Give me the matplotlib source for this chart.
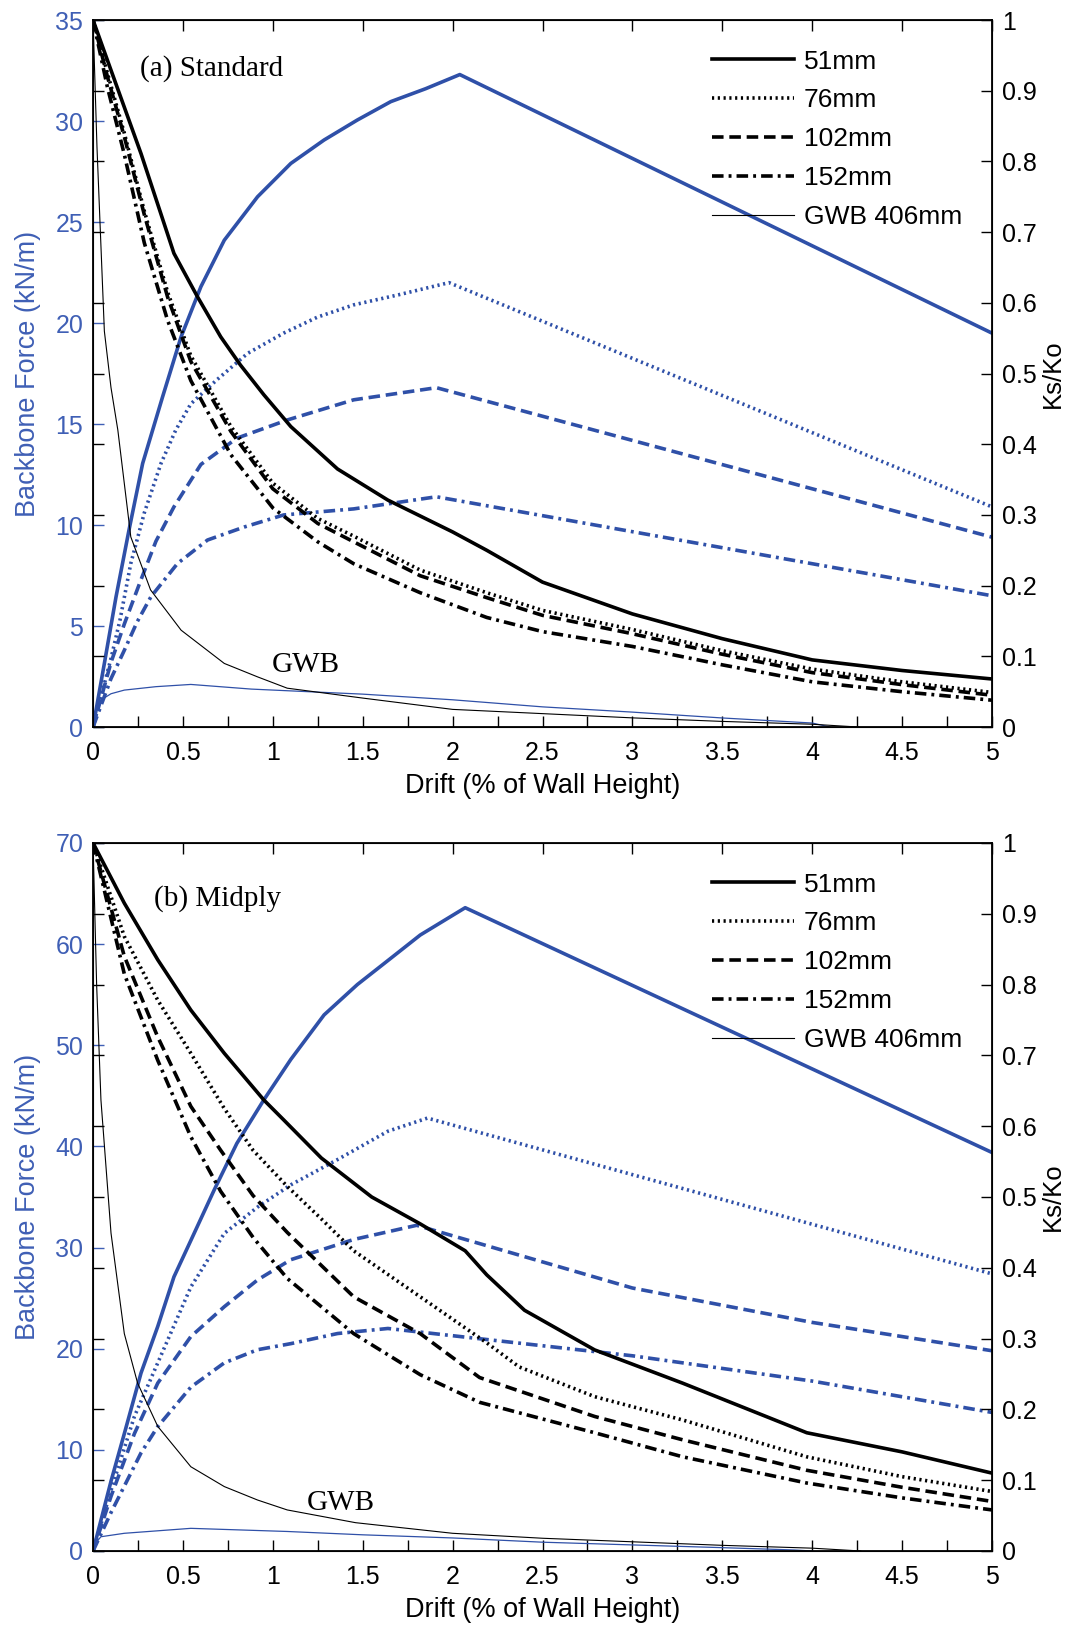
import matplotlib
matplotlib.use("Agg")
import matplotlib.pyplot as plt
from matplotlib.lines import Line2D
from matplotlib.ticker import MultipleLocator, FuncFormatter

plt.rcParams['font.family'] = ['Liberation Sans', 'DejaVu Sans']

BLUE = '#2F50A8'
BLUE_TXT = '#3F5FB5'

# ---------------- (a) Standard ----------------
a_f51_d = [0, 0.063, 0.128, 0.2, 0.276, 0.387, 0.489, 0.6, 0.73, 0.915, 1.1, 1.285, 1.47, 1.656, 1.85, 2.04, 5]
a_f51 = [0, 3.15, 6.45, 9.75, 13.05, 16.35, 19.3, 21.8, 24.1, 26.25, 27.9, 29.06, 30.05, 30.96, 31.6, 32.3, 19.5]
a_f76_d = [0, 0.1, 0.15, 0.21, 0.285, 0.378, 0.46, 0.544, 0.69, 0.86, 1.06, 1.25, 1.45, 1.7, 1.98, 5]
a_f76 = [0, 3.4, 5.3, 8.1, 10.6, 13.05, 14.7, 16.0, 17.2, 18.5, 19.5, 20.3, 20.9, 21.4, 22.0, 10.9]
a_f102_d = [0, 0.1, 0.174, 0.267, 0.35, 0.45, 0.6, 0.8, 1.08, 1.45, 1.91, 5]
a_f102 = [0, 3.2, 5.1, 7.3, 9.2, 10.9, 13.0, 14.3, 15.2, 16.2, 16.8, 9.4]
a_f152_d = [0, 0.1, 0.174, 0.245, 0.322, 0.47, 0.637, 0.84, 1.06, 1.45, 1.91, 5]
a_f152 = [0, 2.4, 3.8, 5.2, 6.45, 8.1, 9.26, 9.9, 10.5, 10.8, 11.4, 6.5]
a_fgwb_d = [0, 0.02, 0.044, 0.1, 0.174, 0.35, 0.544, 0.88, 1.2, 1.5, 2.0, 2.5, 3.0, 3.5, 4.0, 4.1]
a_fgwb = [0, 0.9, 1.34, 1.65, 1.83, 2.0, 2.11, 1.88, 1.75, 1.63, 1.35, 1.0, 0.74, 0.45, 0.2, 0]

a_k51_d = [0, 0.1, 0.267, 0.45, 0.58, 0.71, 0.82, 0.95, 1.1, 1.36, 1.64, 2.0, 2.19, 2.5, 3, 3.5, 4, 4.5, 5]
a_k51 = [1, 0.929, 0.811, 0.67, 0.609, 0.552, 0.512, 0.47, 0.425, 0.365, 0.321, 0.276, 0.25, 0.205, 0.16, 0.125, 0.095, 0.08, 0.068]
a_k_d = [0, 0.08, 0.174, 0.285, 0.415, 0.544, 0.767, 1.0, 1.25, 1.45, 1.82, 2.19, 2.5, 3, 3.5, 4, 4.5, 5]
a_k76 = [1, 0.925, 0.84, 0.73, 0.615, 0.525, 0.425, 0.345, 0.295, 0.27, 0.222, 0.19, 0.165, 0.138, 0.108, 0.082, 0.064, 0.049]
a_k102 = [1, 0.92, 0.835, 0.725, 0.608, 0.517, 0.418, 0.337, 0.288, 0.262, 0.214, 0.183, 0.158, 0.132, 0.103, 0.077, 0.06, 0.045]
a_k152 = [1, 0.905, 0.81, 0.685, 0.575, 0.49, 0.385, 0.31, 0.262, 0.231, 0.19, 0.155, 0.135, 0.114, 0.088, 0.064, 0.05, 0.038]
a_kgwb_d = [0, 0.022, 0.063, 0.1, 0.138, 0.21, 0.32, 0.49, 0.73, 0.915, 1.08, 1.5, 2.0, 2.5, 3.0, 3.5, 4.0, 4.26]
a_kgwb = [1, 0.82, 0.56, 0.48, 0.42, 0.269, 0.194, 0.137, 0.09, 0.071, 0.055, 0.041, 0.025, 0.019, 0.013, 0.008, 0.004, 0]

# ---------------- (b) Midply ----------------
b_f51_d = [0, 0.1, 0.174, 0.267, 0.36, 0.45, 0.544, 0.674, 0.8, 0.95, 1.1, 1.285, 1.47, 1.656, 1.82, 2.07, 5]
b_f51 = [0, 6.9, 11.6, 17.6, 22.2, 27.1, 30.7, 35.7, 40.3, 44.6, 48.6, 53.0, 56.0, 58.6, 60.9, 63.6, 39.4]
b_f76_d = [0, 0.1, 0.23, 0.36, 0.544, 0.73, 0.915, 1.1, 1.36, 1.64, 1.86, 5]
b_f76 = [0, 6.0, 13.3, 18.6, 26.1, 31.4, 34.0, 36.2, 38.7, 41.5, 42.8, 27.4]
b_f102_d = [0, 0.1, 0.23, 0.36, 0.544, 0.73, 0.915, 1.1, 1.45, 1.8, 3, 4, 5]
b_f102 = [0, 5.4, 11.6, 16.6, 21.2, 24.15, 26.8, 28.8, 30.8, 32.2, 26.0, 22.6, 19.8]
b_f152_d = [0, 0.1, 0.267, 0.36, 0.544, 0.73, 0.915, 1.1, 1.36, 1.64, 3, 4, 5]
b_f152 = [0, 3.8, 9.7, 12.3, 16.2, 18.6, 19.9, 20.5, 21.5, 22.0, 19.3, 16.8, 13.7]
b_fgwb_d = [0, 0.02, 0.044, 0.174, 0.544, 1.08, 1.5, 2.0, 2.5, 3.0, 3.5, 3.9, 4.0]
b_fgwb = [0, 0.9, 1.41, 1.75, 2.24, 1.93, 1.6, 1.29, 0.87, 0.6, 0.33, 0.1, 0]

b_k51_d = [0, 0.174, 0.36, 0.544, 0.73, 0.95, 1.06, 1.27, 1.55, 1.82, 2.07, 2.19, 2.4, 2.79, 3.28, 3.97, 4.5, 5]
b_k51 = [1, 0.915, 0.835, 0.764, 0.703, 0.637, 0.609, 0.555, 0.5, 0.462, 0.424, 0.39, 0.34, 0.284, 0.237, 0.167, 0.14, 0.11]
b_k76_d = [0, 0.174, 0.36, 0.544, 0.73, 0.89, 1.08, 1.27, 1.45, 1.82, 2.19, 2.37, 2.79, 3.28, 3.97, 4.5, 5]
b_k76 = [1, 0.868, 0.778, 0.703, 0.625, 0.566, 0.515, 0.469, 0.424, 0.359, 0.294, 0.26, 0.218, 0.185, 0.133, 0.105, 0.084]
b_k_d = [0, 0.174, 0.36, 0.544, 0.71, 0.89, 1.08, 1.45, 1.82, 2.15, 2.79, 3.28, 3.97, 4.5, 5]
b_k102 = [1, 0.84, 0.726, 0.628, 0.566, 0.502, 0.45, 0.359, 0.307, 0.245, 0.19, 0.157, 0.114, 0.09, 0.07]
b_k152 = [1, 0.815, 0.693, 0.585, 0.508, 0.443, 0.385, 0.307, 0.249, 0.21, 0.167, 0.133, 0.096, 0.075, 0.058]
b_kgwb_d = [0, 0.02, 0.044, 0.1, 0.174, 0.248, 0.36, 0.544, 0.73, 0.915, 1.08, 1.46, 2.0, 2.5, 3.0, 3.5, 4.0, 4.27]
b_kgwb = [1, 0.8, 0.637, 0.449, 0.307, 0.237, 0.176, 0.119, 0.091, 0.072, 0.058, 0.04, 0.025, 0.018, 0.013, 0.008, 0.004, 0]

legend_labels = ['51mm', '76mm', '102mm', '152mm', 'GWB 406mm']

DOT = (0, (0.6, 1.0))
DASH = (0, (3.2, 1.6))
DASHDOT = (0, (3.2, 1.4, 0.8, 1.4))
STYLES = ['-', DOT, DASH, DASHDOT]
LW = 2.6
TICK_FS = 18
LABEL_FS = 19.5


def fmt(v, _):
    s = f"{v:.1f}"
    return s[:-2] if s.endswith('.0') else s


def panel(rect, fmax, title, title_xy, gwb_xy, force, ks):
    ax = fig.add_axes(rect)
    for (d, f), ls in zip(force[:4], STYLES):
        ax.plot(d, f, color=BLUE, lw=LW, linestyle=ls, solid_joinstyle='round')
    ax.plot(force[4][0], force[4][1], color=BLUE, lw=0.9)
    ax.set_xlim(0, 5)
    ax.set_ylim(0, fmax)
    ax.xaxis.set_major_locator(MultipleLocator(0.5))
    ax.xaxis.set_minor_locator(MultipleLocator(0.25))
    ax.xaxis.set_major_formatter(FuncFormatter(fmt))
    ax.yaxis.set_major_locator(MultipleLocator(fmax / 7))
    ax.tick_params(axis='x', which='major', direction='in', length=8, width=1,
                   top=True, labelsize=TICK_FS, pad=10, colors='black')
    ax.tick_params(axis='x', which='minor', direction='in', length=8, width=1,
                   top=False)
    ax.tick_params(axis='y', direction='in', length=8, width=1, colors=BLUE_TXT,
                   labelsize=TICK_FS, pad=7)
    ax.set_ylabel('Backbone Force (kN/m)', color=BLUE_TXT, fontsize=LABEL_FS, labelpad=10)
    ax.set_xlabel('Drift (% of Wall Height)', fontsize=LABEL_FS, labelpad=6)
    for s in ax.spines.values():
        s.set_linewidth(1.3)

    ax2 = ax.twinx()
    for (d, k), ls in zip(ks[:4], STYLES):
        ax2.plot(d, k, color='black', lw=LW, linestyle=ls, solid_joinstyle='round')
    ax2.plot(ks[4][0], ks[4][1], color='black', lw=0.8)
    ax2.set_ylim(0, 1)
    ax2.yaxis.set_major_locator(MultipleLocator(0.1))
    ax2.yaxis.set_major_formatter(FuncFormatter(fmt))
    ax2.tick_params(axis='y', direction='in', length=8, width=1, left=True,
                    right=True, labelsize=TICK_FS, pad=7)
    ax2.set_ylabel('Ks/Ko', fontsize=18.5, labelpad=3)

    ax2.text(title_xy[0], title_xy[1], title, transform=ax2.transAxes,
             family='Liberation Serif', fontsize=21, va='center', ha='left')
    ax.text(gwb_xy[0], gwb_xy[1], 'GWB', family='Liberation Serif',
            fontsize=21, va='center', ha='center')

    handles = [Line2D([], [], color='black', lw=LW, linestyle=ls) for ls in STYLES]
    handles.append(Line2D([], [], color='black', lw=0.8))
    ax2.legend(handles, legend_labels, loc='upper left', bbox_to_anchor=(0.677, 0.973),
               frameon=False, fontsize=19, handlelength=3.1, handletextpad=0.38,
               labelspacing=0.56, borderaxespad=0)
    return ax, ax2


fig = plt.figure(figsize=(10.73, 16.28), dpi=100)

panel([0.0867, 0.5534, 0.8378, 0.4343], 35, '(a) Standard', (0.052, 0.932), (1.185, 3.08),
      [(a_f51_d, a_f51), (a_f76_d, a_f76), (a_f102_d, a_f102), (a_f152_d, a_f152),
       (a_fgwb_d, a_fgwb)],
      [(a_k51_d, a_k51), (a_k_d, a_k76), (a_k_d, a_k102), (a_k_d, a_k152),
       (a_kgwb_d, a_kgwb)])

panel([0.0867, 0.0473, 0.8378, 0.4349], 70, '(b) Midply', (0.068, 0.921), (1.376, 4.75),
      [(b_f51_d, b_f51), (b_f76_d, b_f76), (b_f102_d, b_f102), (b_f152_d, b_f152),
       (b_fgwb_d, b_fgwb)],
      [(b_k51_d, b_k51), (b_k76_d, b_k76), (b_k_d, b_k102), (b_k_d, b_k152),
       (b_kgwb_d, b_kgwb)])

fig.savefig('out.png', dpi=100)
